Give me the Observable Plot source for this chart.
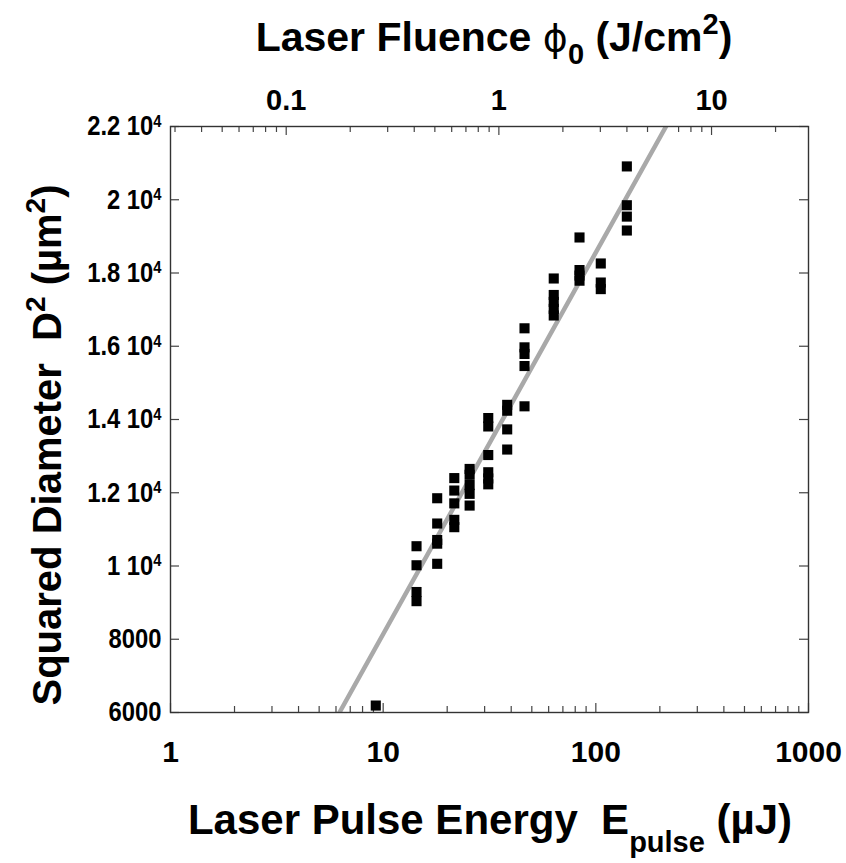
<!DOCTYPE html>
<html>
<head>
<meta charset="utf-8">
<script src="https://cdn.jsdelivr.net/npm/d3@7"></script>
<script src="https://cdn.jsdelivr.net/npm/@observablehq/plot@0.6"></script>
<style>
  html, body { margin: 0; padding: 0; background: #ffffff; }
  #chart svg { display: block; }
</style>
</head>
<body>
<div id="chart"></div>
<script>
// ---- data ----
const pulseEnergy = [
  9.23,
  14.35, 14.35, 14.35, 14.35,
  17.95, 17.95, 17.95, 17.95, 17.95,
  21.6, 21.6, 21.6, 21.6, 21.6,
  25.5, 25.5, 25.5, 25.5, 25.5,
  31.2, 31.2, 31.2, 31.2, 31.2, 31.2,
  38.3, 38.3, 38.3, 38.3,
  46.2, 46.2, 46.2, 46.2, 46.2,
  63.4, 63.4, 63.4, 63.4, 63.4,
  83.8, 83.8, 83.8, 83.8,
  105.5, 105.5, 105.5,
  139.9, 139.9, 139.9, 139.9
];
const squaredDiameter = [
  6190,
  10540, 10020, 9290, 9040,
  11850, 11160, 10710, 10610, 10060,
  12400, 12060, 11710, 11260, 11060,
  12650, 12490, 12210, 11970, 11650,
  14040, 13810, 13030, 12560, 12390, 12230,
  14400, 14240, 13730, 13180,
  16490, 15970, 15790, 15460, 14360,
  17850, 17400, 17210, 17020, 16840,
  18970, 18080, 17930, 17790,
  18260, 17740, 17560,
  20910, 19850, 19540, 19160
];
// fitted line end points
const fitEnergy = [6.23, 213.8];
const fitD2 = [6000, 22000];

// fluence (J/cm^2) = pulse energy (uJ) / energyPerFluence
const energyPerFluence = 35;

// tick values / labels
const bottomTickValues = [1, 10, 100, 1000];
const bottomTickLabels = ["1", "10", "100", "1000"];
const topTickValues = [0.1, 1, 10];
const topTickLabels = ["0.1", "1", "10"];
const yTickValues = [6000, 8000, 10000, 12000, 14000, 16000, 18000, 20000, 22000];
const yTickLabels = ["6000", "8000", "1 10^4", "1.2 10^4", "1.4 10^4", "1.6 10^4", "1.8 10^4", "2 10^4", "2.2 10^4"];

const bottomMinor = [2,3,4,5,6,7,8,9,20,30,40,50,60,70,80,90,200,300,400,500,600,700,800,900];
const topMinor = [0.03,0.04,0.05,0.06,0.07,0.08,0.09,0.2,0.3,0.4,0.5,0.6,0.7,0.8,0.9,2,3,4,5,6,7,8,9,20];

const points = pulseEnergy.map((e, i) => ({e, d2: squaredDiameter[i]}));
const fit = fitEnergy.map((e, i) => ({e, d2: fitD2[i]}));
const topTickEnergies = topTickValues.map(f => f * energyPerFluence);

// ---- layout ----
const W = 846, H = 863;
const mL = 170, mR = 38, mT = 126, mB = 151;
const FW = W - mL - mR, FH = H - mT - mB;
const FONT = "'Liberation Sans', Arial, Helvetica, sans-serif";
const tickColor = "#444";

const chart = Plot.plot({
  width: W, height: H,
  marginLeft: mL, marginRight: mR, marginTop: mT, marginBottom: mB,
  style: {fontFamily: FONT, fontWeight: "bold", background: "#ffffff", color: "#000"},
  x: {type: "log", domain: [1, 1000]},
  y: {type: "linear", domain: [6000, 22000]},
  marks: [
    // inward tick marks
    Plot.ruleX(bottomTickValues, {x: d => d, insetTop: FH - 9, stroke: tickColor, strokeWidth: 1.2}),
    Plot.ruleX(bottomMinor, {x: d => d, insetTop: FH - 6, stroke: tickColor, strokeWidth: 1.2}),
    Plot.ruleX(topTickEnergies, {x: d => d, insetBottom: FH - 9, stroke: tickColor, strokeWidth: 1.2}),
    Plot.ruleX(topMinor, {x: d => d * energyPerFluence, insetBottom: FH - 6, stroke: tickColor, strokeWidth: 1.2}),
    Plot.ruleY(yTickValues, {y: d => d, insetRight: FW - 9, stroke: tickColor, strokeWidth: 1.2}),
    Plot.ruleY(yTickValues, {y: d => d, insetLeft: FW - 9, stroke: tickColor, strokeWidth: 1.2}),
    // fitted line
    Plot.line(fit, {x: "e", y: "d2", stroke: "#a9a9a9", strokeWidth: 4.5, clip: true}),
    // data squares
    Plot.dot(points, {x: "e", y: "d2", symbol: "square", r: 5.7, fill: "#000", stroke: "none"}),
    Plot.frame({stroke: "#333", strokeWidth: 1.4}),
    // axes (labels only)
    Plot.axisX({anchor: "bottom", ticks: bottomTickValues, tickSize: 0, tickPadding: 28,
      tickFormat: d => bottomTickLabels[bottomTickValues.indexOf(d)],
      fontSize: 30, fontWeight: "bold", label: null}),
    Plot.axisX({anchor: "top", ticks: topTickEnergies, tickSize: 0, tickPadding: 17,
      tickFormat: d => topTickLabels[topTickEnergies.findIndex(v => Math.abs(v - d) < 1e-6)],
      fontSize: 29, fontWeight: "bold", label: null}),
    Plot.axisY({anchor: "left", ticks: yTickValues, tickSize: 0, tickPadding: 9,
      tickFormat: d => yTickLabels[yTickValues.indexOf(d)],
      fontSize: 28, fontWeight: "bold", label: null})
  ]
});

document.getElementById("chart").appendChild(chart);

const svg = d3.select(chart);

// superscripts in tick labels "a 10^4", slightly condensed y labels
svg.selectAll("text").each(function() {
  const t = d3.select(this);
  const s = this.textContent;
  if (s.includes("^")) {
    const [base, sup] = s.split("^");
    t.text(null);
    t.append("tspan").text(base);
    t.append("tspan").attr("dy", "-0.5em").attr("font-size", "0.62em").text(sup);
  }
});
svg.selectAll('g[aria-label="y-axis tick label"] text').each(function() {
  const tr = this.getAttribute("transform") || "";
  this.setAttribute("transform", tr + " scale(0.85,1)");
});

// titles
const topTitle = svg.append("text")
  .attr("x", 494).attr("y", 51).attr("text-anchor", "middle")
  .attr("font-size", 41).attr("font-weight", "bold").attr("fill", "#000")
  .attr("font-family", FONT).attr("xml:space", "preserve");
topTitle.append("tspan").text("Laser Fluence ");
topTitle.append("tspan").attr("font-family", "'DejaVu Sans', sans-serif").attr("font-weight", "normal").attr("font-size", 38).text("ϕ");
topTitle.append("tspan").attr("font-size", 29).attr("dy", 13).text("0");
topTitle.append("tspan").attr("dy", -13).text(" (J/cm");
topTitle.append("tspan").attr("font-size", 29).attr("dy", -17).text("2");
topTitle.append("tspan").attr("dy", 17).text(")");

const bottomTitle = svg.append("text")
  .attr("x", 490).attr("y", 834).attr("text-anchor", "middle")
  .attr("font-size", 42).attr("font-weight", "bold").attr("fill", "#000")
  .attr("font-family", FONT).attr("xml:space", "preserve");
bottomTitle.append("tspan").text("Laser Pulse Energy  E");
bottomTitle.append("tspan").attr("font-size", 29).attr("dy", 18).text("pulse");
bottomTitle.append("tspan").attr("dy", -18).text(" (µJ)");

const leftTitle = svg.append("text")
  .attr("transform", "translate(61,445) rotate(-90)")
  .attr("text-anchor", "middle")
  .attr("font-size", 40).attr("font-weight", "bold").attr("fill", "#000")
  .attr("font-family", FONT).attr("xml:space", "preserve");
leftTitle.append("tspan").text("Squared Diameter  D");
leftTitle.append("tspan").attr("font-size", 28).attr("dy", -16).text("2");
leftTitle.append("tspan").attr("dy", 16).text(" (µm");
leftTitle.append("tspan").attr("font-size", 28).attr("dy", -16).text("2");
leftTitle.append("tspan").attr("dy", 16).text(")");
</script>
</body>
</html>
